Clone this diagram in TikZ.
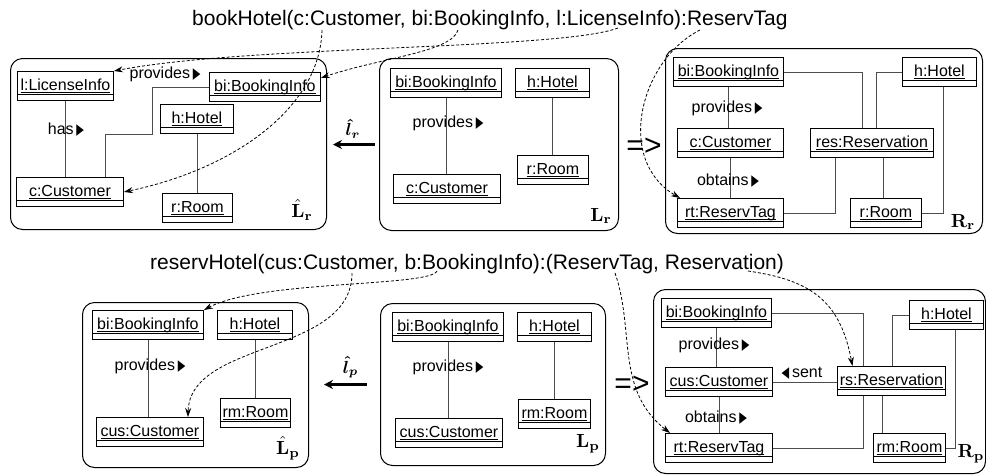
\documentclass[tikz,border=0pt]{standalone}
\usepackage{amsmath}
\usepackage[no-math]{fontspec}
\setmainfont{Liberation Sans}
\newfontfamily\trifont{DejaVu Sans}
\usepackage{tikz}
\usetikzlibrary{arrows.meta, positioning}

\newcommand{\clsname}[1]{\setbox0\hbox{#1}\rlap{\rule[-2.6pt]{\wd0}{0.9pt}}\box0}
\newcommand{\rtri}{\scalebox{0.62}[0.95]{\trifont\char"25B6}}
\newcommand{\ltri}{\scalebox{0.62}[0.95]{\trifont\char"25C0}}

\begin{document}
\begin{tikzpicture}[x=1pt, y=-1pt,
  cls/.style={draw, line width=0.9pt, anchor=north west, inner xsep=2pt, inner ysep=0pt,
    text height=19pt, text depth=10pt, font=\fontsize{16}{18}\selectfont,
    path picture={\draw[line width=0.9pt] ([yshift=6pt]path picture bounding box.south west)
      -- ([yshift=6pt]path picture bounding box.south east);}},
  frame/.style={draw, line width=1pt, rounded corners=12pt, anchor=north west, inner sep=0pt},
  link/.style={draw=black!70, line width=0.9pt},
  role/.style={font=\fontsize{16}{18}\selectfont, inner sep=0pt},
  corr/.style={-{Stealth[length=9pt,width=6pt]}, dash pattern=on 3pt off 2pt, line width=0.8pt},
  morph/.style={-{Stealth[length=9pt,width=9pt]}, line width=2.4pt},
  gname/.style={inner sep=0pt},
  implies/.style={font=\fontsize{30}{30}\selectfont, inner sep=0pt},
  title/.style={font=\fontsize{21}{24}\selectfont, anchor=base west, inner sep=0pt}]
\useasboundingbox (0,0) rectangle (986,475);

\node[title] (t1) at (192,25) {bookHotel(c:Customer, bi:BookingInfo, l:LicenseInfo):ReservTag};
\node[title] (t2) at (150,269) {reservHotel(cus:Customer, b:BookingInfo):(ReservTag, Reservation)};

% hat L_r
\node[frame, minimum width=316, minimum height=171] (Lrh) at (10,58) {};
\node[cls, minimum width=96] (li1) at (17,71) {\clsname{l:LicenseInfo}};
\node[cls, minimum width=111] (bi1) at (209,72) {\clsname{bi:BookingInfo}};
\node[cls, minimum width=73] (h1) at (160,104) {\clsname{h:Hotel}};
\node[cls, minimum width=107] (c1) at (16,177) {\clsname{c:Customer}};
\node[cls, minimum width=70] (r1) at (162,193) {\clsname{r:Room}};
\draw[link]
  (li1.south) -- (li1.south |- c1.north)
  (bi1.west) -| (152,134) -| ([xshift=35.5pt]c1.north)
  (h1.south) -- (h1.south |- r1.north);
\node[role] (prov1) at (165,74) {provides\,\rtri};
\node[role] (has1) at (66,130) {has\,\rtri};
\node[gname] (lab1) at (302,210) {\scalebox{1.9}{$\hat{\mathbf{L}}_{\mathbf{r}}$}};

% L_r
\node[frame, minimum width=239, minimum height=172] (Lr) at (379,58) {};
\node[cls, minimum width=111] (bi2) at (390,68) {\clsname{bi:BookingInfo}};
\node[cls, minimum width=74] (h2) at (515,68) {\clsname{h:Hotel}};
\node[cls, minimum width=107] (c2) at (393,174) {\clsname{c:Customer}};
\node[cls, minimum width=71] (r2) at (517,155) {\clsname{r:Room}};
\draw[link]
  (bi2.south) -- (bi2.south |- c2.north)
  (h2.south) -- (h2.south |- r2.north);
\node[role] (prov2) at (448,123) {provides\,\rtri};
\node[gname] (lab2) at (601,216) {\scalebox{1.9}{$\mathbf{L}_{\mathbf{r}}$}};

\draw[morph, shorten <=4pt, shorten >=6pt] (Lr.west) --
  node[gname, above=5pt] {\scalebox{1.75}{$\boldsymbol{\hat{l}_{r}}$}} (Lr.west -| Lrh.east);
\node[implies] (ar1) at (644,147) {=>};

% R_r
\node[frame, minimum width=317, minimum height=185] (Rr) at (665,48) {};
\node[cls, minimum width=110] (bi3) at (673,57) {\clsname{bi:BookingInfo}};
\node[cls, minimum width=74] (h3) at (902,57) {\clsname{h:Hotel}};
\node[cls, minimum width=106] (c3) at (677,128) {\clsname{c:Customer}};
\node[cls, minimum width=123] (res3) at (810,128) {\clsname{res:Reservation}};
\node[cls, minimum width=106] (rt3) at (677,198) {\clsname{rt:ReservTag}};
\node[cls, minimum width=71] (r3) at (850,198) {\clsname{r:Room}};
\draw[link]
  (bi3.south) -- (bi3.south |- c3.north)
  (c3.south) -- (c3.south |- rt3.north)
  (bi3.east) -| ([xshift=-9.5pt]res3.north)
  (h3.west) -| ([xshift=4.5pt]res3.north)
  (rt3.east) -| ([xshift=-36.5pt]res3.south)
  ([xshift=11.5pt]res3.south) -- ([xshift=11.5pt]res3.south |- r3.north)
  ([xshift=4pt]h3.south) |- (r3.east);
\node[role] (prov3) at (727,108) {provides\,\rtri};
\node[role] (obt3) at (728,181) {obtains\,\rtri};
\node[gname] (lab3) at (963,222) {\scalebox{1.9}{$\mathbf{R}_{\mathbf{r}}$}};

% hat L_p
\node[frame, minimum width=226, minimum height=165] (Lph) at (82,302) {};
\node[cls, minimum width=111] (bi4) at (92,310) {\clsname{bi:BookingInfo}};
\node[cls, minimum width=75] (h4) at (217,310) {\clsname{h:Hotel}};
\node[cls, minimum width=107] (cus4) at (96,417) {\clsname{cus:Customer}};
\node[cls, minimum width=70] (rm4) at (220,398) {\clsname{rm:Room}};
\draw[link]
  (bi4.south) -- (bi4.south |- cus4.north)
  (h4.south) -- (h4.south |- rm4.north);
\node[role] (prov4) at (150,366) {provides\,\rtri};
\node[gname] (lab4) at (288,448) {\scalebox{1.9}{$\hat{\mathbf{L}}_{\mathbf{p}}$}};

% L_p
\node[frame, minimum width=225, minimum height=162] (Lp) at (380,303) {};
\node[cls, minimum width=111] (bi5) at (392,312) {\clsname{bi:BookingInfo}};
\node[cls, minimum width=74] (h5) at (517,312) {\clsname{h:Hotel}};
\node[cls, minimum width=107] (cus5) at (395,418) {\clsname{cus:Customer}};
\node[cls, minimum width=72] (rm5) at (518,399) {\clsname{rm:Room}};
\draw[link]
  (bi5.south) -- (bi5.south |- cus5.north)
  (h5.south) -- (h5.south |- rm5.north);
\node[role] (prov5) at (448,367) {provides\,\rtri};
\node[gname] (lab5) at (588,444) {\scalebox{1.9}{$\mathbf{L}_{\mathbf{p}}$}};

\draw[morph, shorten <=13pt, shorten >=15pt] (Lp.west) --
  node[gname, above=5pt, xshift=6pt] {\scalebox{1.75}{$\boldsymbol{\hat{l}_{p}}$}} (Lp.west -| Lph.east);
\node[implies] (ar2) at (632,385) {=>};

% R_p
\node[frame, minimum width=332, minimum height=184] (Rp) at (653,289) {};
\node[cls, minimum width=110] (bi6) at (661,298) {\clsname{bi:BookingInfo}};
\node[cls, minimum width=74] (h6) at (909,300) {\clsname{h:Hotel}};
\node[cls, minimum width=107] (cus6) at (665,367) {\clsname{cus:Customer}};
\node[cls, minimum width=108] (rs6) at (837,366) {\clsname{rs:Reservation}};
\node[cls, minimum width=107] (rt6) at (665,433) {\clsname{rt:ReservTag}};
\node[cls, minimum width=72] (rm6) at (873,433) {\clsname{rm:Room}};
\draw[link]
  (bi6.south) -- (bi6.south |- cus6.north)
  (cus6.south) -- (cus6.south |- rt6.north)
  (cus6.east) -- (cus6.east -| rs6.west)
  (bi6.east) -| ([xshift=-28pt]rs6.north)
  (h6.west) -| ([xshift=1pt]rs6.north)
  (rt6.east) -| ([xshift=-28pt]rs6.south)
  ([xshift=-9pt]rs6.south) -- ([xshift=-9pt]rs6.south |- rm6.north)
  ([xshift=9pt]h6.south) |- (rm6.east);
\node[role] (prov6) at (714,345) {provides\,\rtri};
\node[role] (obt6) at (716,418) {obtains\,\rtri};
\node[role] (sent6) at (802,373) {\ltri\,sent};
\node[gname] (lab6) at (971,454) {\scalebox{1.9}{$\mathbf{R}_{\mathbf{p}}$}};

% parameter mappings
\draw[corr] ([xshift=130pt,yshift=-5pt]t1.base west) .. controls (320,110) and (230,170) .. (c1.east);
\draw[corr] ([xshift=266pt,yshift=-5pt]t1.base west) .. controls (452,52) and (380,58) .. ([yshift=9pt]bi1.east);
\draw[corr] ([xshift=426pt,yshift=-3pt]t1.base west) .. controls (560,50) and (250,45) .. (li1.north east);
\draw[corr] ([xshift=508pt,yshift=-5pt]t1.base west) .. controls (640,60) and (615,160) .. ([xshift=3pt]rt3.north west);
\draw[corr] ([xshift=202pt,yshift=-4pt]t2.base west) .. controls (352,355) and (190,340) .. ([xshift=38pt]cus4.north);
\draw[corr] ([xshift=287pt,yshift=-2pt]t2.base west) .. controls (430,287) and (260,280) .. (bi4.north east);
\draw[corr] ([xshift=465pt,yshift=-4pt]t2.base west) .. controls (635,330) and (615,390) .. ([xshift=5pt]rt6.north west);
\draw[corr] ([xshift=598pt,yshift=-2pt]t2.base west) .. controls (810,280) and (840,300) .. ([xshift=-39pt]rs6.north);
\end{tikzpicture}
\end{document}
